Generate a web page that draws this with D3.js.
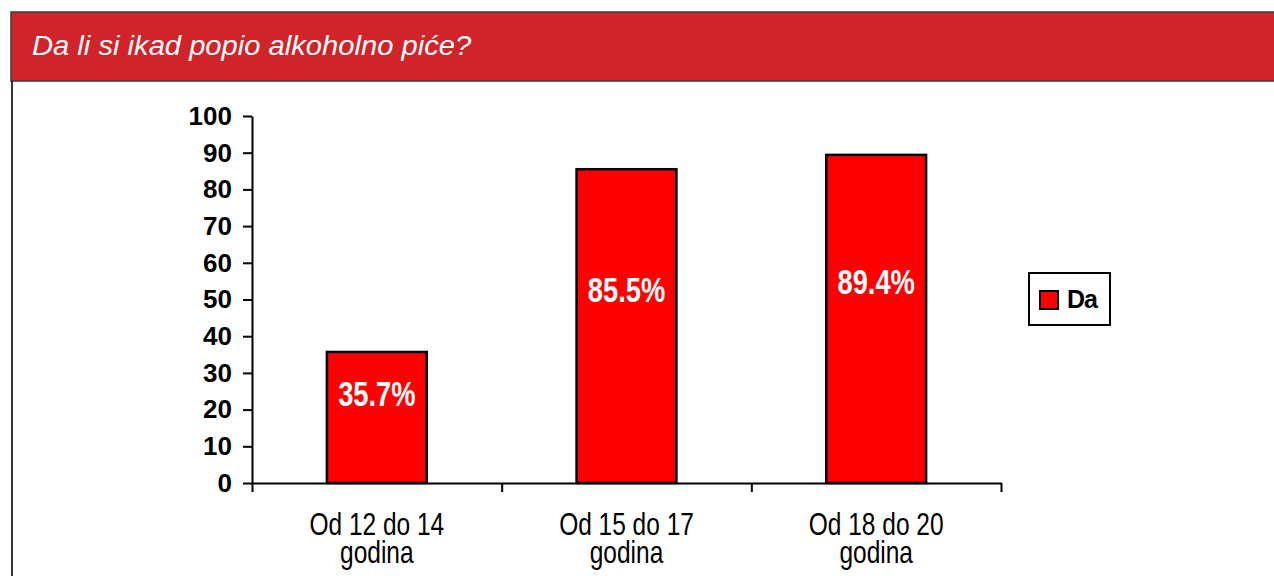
<!DOCTYPE html>
<html>
<head>
<meta charset="utf-8">
<script src="https://cdn.jsdelivr.net/npm/d3@7"></script>
<style>
  body { margin: 0; background: #fff; }
  text { font-family: "Liberation Sans", Arial, sans-serif; }
</style>
</head>
<body>
<svg id="chart" width="1274" height="576"></svg>
<script>
// data
const title = 'Da li si ikad popio alkoholno piće?'
const categories = [['Od 12 do 14', 'godina'], ['Od 15 do 17', 'godina'], ['Od 18 do 20', 'godina']]
const values = [35.7, 85.5, 89.4]
const yTicks = [0, 10, 20, 30, 40, 50, 60, 70, 80, 90, 100]
const seriesName = 'Da'

const svg = d3.select('svg#chart')

// header band + left frame line
svg.append('rect')
    .attr('x', 11).attr('y', 12)
    .attr('width', 1270).attr('height', 69)
    .attr('fill', '#d1232a')
    .attr('stroke', '#3a3a3a').attr('stroke-width', 1.5)
svg.append('line')
    .attr('x1', 12).attr('x2', 12)
    .attr('y1', 81).attr('y2', 576)
    .attr('stroke', '#000').attr('stroke-width', 1.6)

svg.append('text')
    .attr('transform', 'translate(32,55) scale(1.08,1)')
    .attr('fill', '#fff')
    .attr('font-size', 27)
    .attr('font-style', 'italic')
    .text(title)

let y = d3.scaleLinear().domain([0, 100]).range([483, 116])
let x = d3.scaleBand()
    .domain(d3.range(categories.length))
    .range([252, 1001])
    .paddingInner(0.6)
    .paddingOuter(0.3)

// y axis
let yAxis = svg.append('g')
    .attr('transform', 'translate(252,0)')
    .call(d3.axisLeft(y).tickValues(yTicks).tickSize(9).tickSizeOuter(0).tickPadding(11))
yAxis.select('.domain').attr('stroke', '#000').attr('stroke-width', 2)
yAxis.selectAll('.tick line').attr('stroke', '#000').attr('stroke-width', 2)
yAxis.selectAll('.tick text')
    .attr('font-family', '"Liberation Sans", Arial, sans-serif')
    .attr('font-size', 26)
    .attr('font-weight', 'bold')
    .attr('fill', '#000')

// x axis: category boundary ticks
let xb = d3.scaleLinear().domain([0, categories.length]).range(x.range())
let xAxis = svg.append('g')
    .attr('transform', 'translate(0,483)')
    .call(d3.axisBottom(xb).tickValues(d3.range(categories.length + 1)).tickFormat('').tickSize(9).tickSizeOuter(0))
xAxis.select('.domain').attr('stroke', '#000').attr('stroke-width', 2)
xAxis.selectAll('.tick line').attr('stroke', '#000').attr('stroke-width', 2)

// bars
svg.selectAll('rect.bar')
    .data(values)
    .enter()
    .append('rect')
    .attr('class', 'bar')
    .attr('x', (d, i) => x(i))
    .attr('y', d => y(d))
    .attr('width', x.bandwidth())
    .attr('height', d => y(0) - y(d))
    .attr('fill', '#ff0000')
    .attr('stroke', '#000')
    .attr('stroke-width', 2.5)

// value labels, a bit above the middle of each bar
svg.selectAll('text.val')
    .data(values)
    .enter()
    .append('text')
    .attr('class', 'val')
    .attr('transform', (d, i) => `translate(${x(i) + x.bandwidth() / 2},${y(d * 0.57 + 0.5)}) scale(0.78,1)`)
    .attr('text-anchor', 'middle')
    .attr('fill', '#fff')
    .attr('font-size', 35)
    .attr('font-weight', 'bold')
    .text(d => d3.format('.1f')(d) + '%')

// category labels, two tight lines each (same spacing as the original)
let cat = svg.selectAll('g.cat')
    .data(categories)
    .enter()
    .append('g')
    .attr('class', 'cat')
    .attr('transform', (d, i) => `translate(${x(i) + x.bandwidth() / 2},0) scale(0.79,1)`)
cat.append('text')
    .attr('text-anchor', 'middle')
    .attr('font-size', 31)
    .attr('fill', '#000')
    .selectAll('tspan')
    .data(d => d)
    .enter()
    .append('tspan')
    .attr('x', 0)
    .attr('y', (d, j) => 535 + j * 28)
    .text(d => d)

// legend
let legend = svg.append('g')
legend.append('rect')
    .attr('x', 1029).attr('y', 273)
    .attr('width', 81).attr('height', 52)
    .attr('fill', '#fff')
    .attr('stroke', '#000').attr('stroke-width', 2)
legend.append('rect')
    .attr('x', 1040).attr('y', 291)
    .attr('width', 18).attr('height', 18)
    .attr('fill', '#ff0000')
    .attr('stroke', '#000').attr('stroke-width', 2)
legend.append('text')
    .attr('x', 1067).attr('y', 308)
    .attr('font-size', 25)
    .attr('font-weight', 'bold')
    .attr('letter-spacing', -1)
    .attr('fill', '#000')
    .text(seriesName)
</script>
</body>
</html>
